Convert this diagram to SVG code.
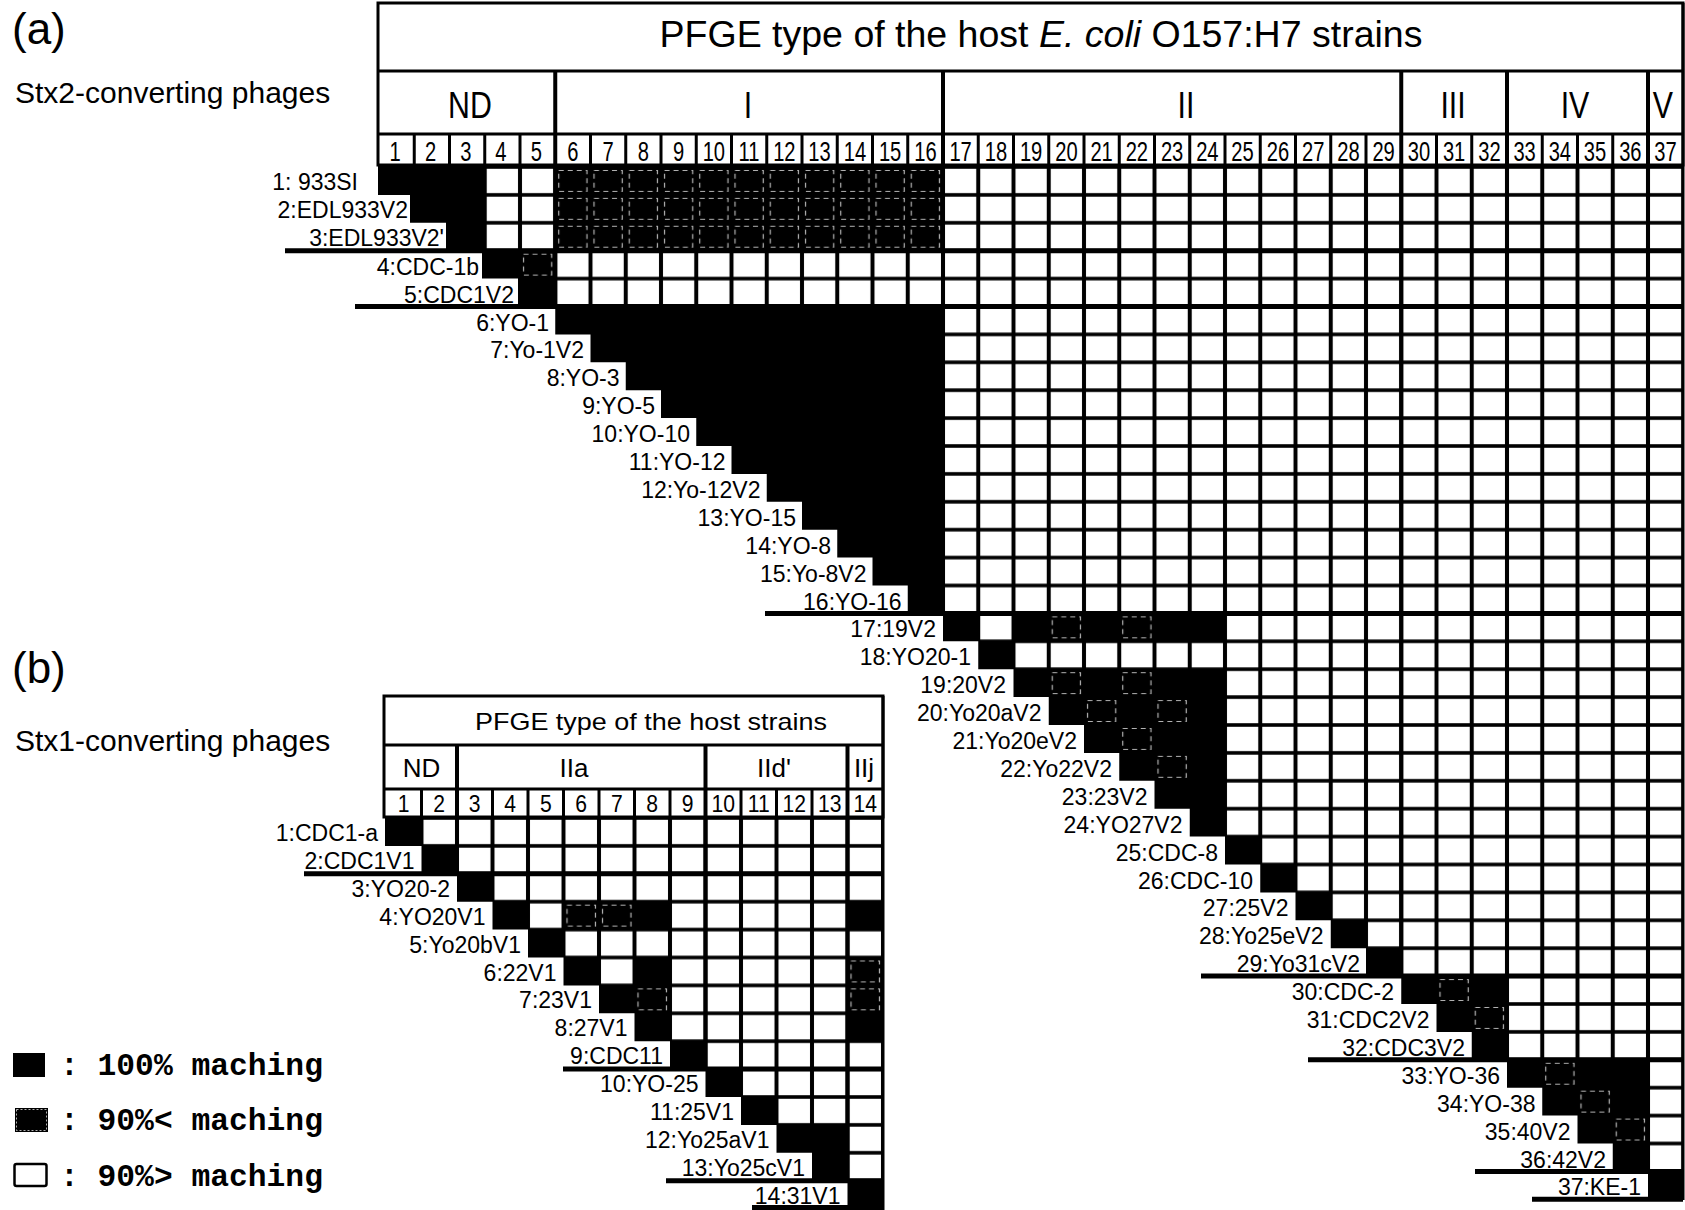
<svg xmlns="http://www.w3.org/2000/svg" width="1685" height="1210" viewBox="0 0 1685 1210">
<style>
.t{font-family:"Liberation Sans",Arial,Helvetica,sans-serif;fill:#000}
.lab{font-family:"Liberation Sans",Arial,Helvetica,sans-serif;font-size:23px;text-anchor:end;fill:#000}
.labb{font-family:"Liberation Sans",Arial,Helvetica,sans-serif;font-size:23px;text-anchor:end;fill:#000}
.num{font-family:"Liberation Sans",Arial,Helvetica,sans-serif;font-size:28px;text-anchor:middle;fill:#000}
.numb{font-family:"Liberation Sans",Arial,Helvetica,sans-serif;font-size:24px;text-anchor:middle;fill:#000}
.grp{font-family:"Liberation Sans",Arial,Helvetica,sans-serif;font-size:37px;text-anchor:middle;fill:#000}
.grpb{font-family:"Liberation Sans",Arial,Helvetica,sans-serif;font-size:26px;text-anchor:middle;fill:#000}
.leg{font-family:"Liberation Mono","Courier New",monospace;font-size:31.3px;font-weight:bold;fill:#000}
.sep{stroke:#000;stroke-width:5;fill:none}
.gl{stroke:#000;stroke-width:4;fill:none}
.thin{stroke:#000;stroke-width:3;fill:none}
.box{fill:#fff;stroke:#000;stroke-width:3}
</style>
<defs>
<pattern id="wa" patternUnits="userSpaceOnUse" x="379" y="167" width="35.25" height="27.9">
<rect x="2" y="1.8" width="31.25" height="24.3" fill="#fff"/>
</pattern>
<pattern id="da" patternUnits="userSpaceOnUse" x="379" y="167" width="35.25" height="27.9">
<rect x="3.5" y="3.5" width="28.25" height="20.9" fill="none" stroke="#fff" stroke-width="1.2" stroke-dasharray="5 4" opacity="0.7"/>
</pattern>
<pattern id="wb" patternUnits="userSpaceOnUse" x="386" y="818" width="35.5" height="27.9">
<rect x="2" y="1.8" width="31.5" height="24.3" fill="#fff"/>
</pattern>
<pattern id="db" patternUnits="userSpaceOnUse" x="386" y="818" width="35.5" height="27.9">
<rect x="3.5" y="3.5" width="28.5" height="20.9" fill="none" stroke="#fff" stroke-width="1.2" stroke-dasharray="5 4" opacity="0.7"/>
</pattern>
</defs>
<rect x="0" y="0" width="1685" height="1210" fill="#fff"/>

<!-- ===== Panel (a) ===== -->
<g id="panel-a-titles">
<text class="t" x="12" y="44" font-size="44">(a)</text>
<text class="t" x="15" y="103" font-size="30">Stx2-converting phages</text>
</g>

<g id="header-a">
<rect class="box" x="378" y="3" width="1305" height="162"/>
<line class="thin" x1="378" y1="71" x2="1683" y2="71"/>
<line class="thin" x1="378" y1="134" x2="1683" y2="134"/>
<text class="t" x="1041" y="47" font-size="37.5" text-anchor="middle">PFGE type of the host <tspan font-style="italic">E. coli</tspan> O157:H7 strains</text>
<g transform="scale(0.82 1)">
<text class="grp" x="573.2" y="118">ND</text>
<text class="grp" x="912.2" y="118">I</text>
<text class="grp" x="1446.3" y="118">II</text>
<text class="grp" x="1772" y="118">III</text>
<text class="grp" x="1920.7" y="118">IV</text>
<text class="grp" x="2028" y="118">V</text>
</g>
<path class="thin" d="M414.25 134V165M449.5 134V165M484.75 134V165M520 134V165M590.5 134V165M625.75 134V165M661 134V165M696.25 134V165M731.5 134V165M766.75 134V165M802 134V165M837.25 134V165M872.5 134V165M907.75 134V165M978.25 134V165M1013.5 134V165M1048.75 134V165M1084 134V165M1119.25 134V165M1154.5 134V165M1189.75 134V165M1225 134V165M1260.25 134V165M1295.5 134V165M1330.75 134V165M1366 134V165M1436.5 134V165M1471.75 134V165M1542.25 134V165M1577.5 134V165M1612.75 134V165"/>
<g transform="scale(0.72 1)">
<text class="num" y="161" x="548.9">1</text><text class="num" y="161" x="597.9">2</text><text class="num" y="161" x="646.9">3</text><text class="num" y="161" x="695.8">4</text><text class="num" y="161" x="744.8">5</text><text class="num" y="161" x="795.7">6</text><text class="num" y="161" x="844.6">7</text><text class="num" y="161" x="893.6">8</text><text class="num" y="161" x="942.5">9</text><text class="num" y="161" x="991.5">10</text><text class="num" y="161" x="1040.4">11</text><text class="num" y="161" x="1089.4">12</text><text class="num" y="161" x="1138.3">13</text><text class="num" y="161" x="1187.4">14</text><text class="num" y="161" x="1236.3">15</text><text class="num" y="161" x="1285.3">16</text><text class="num" y="161" x="1334.2">17</text><text class="num" y="161" x="1383.2">18</text><text class="num" y="161" x="1432.1">19</text><text class="num" y="161" x="1481.1">20</text><text class="num" y="161" x="1530">21</text><text class="num" y="161" x="1579">22</text><text class="num" y="161" x="1627.9">23</text><text class="num" y="161" x="1676.9">24</text><text class="num" y="161" x="1725.8">25</text><text class="num" y="161" x="1774.9">26</text><text class="num" y="161" x="1823.8">27</text><text class="num" y="161" x="1872.8">28</text><text class="num" y="161" x="1921.7">29</text><text class="num" y="161" x="1970.7">30</text><text class="num" y="161" x="2019.6">31</text><text class="num" y="161" x="2068.6">32</text><text class="num" y="161" x="2117.5">33</text><text class="num" y="161" x="2166.5">34</text><text class="num" y="161" x="2215.4">35</text><text class="num" y="161" x="2264.4">36</text><text class="num" y="161" x="2313.3">37</text>
</g>
</g>

<g id="matrix-a">
<path fill="#000" d="M1683.25 165H378V194.9H410V222.8H446V250.7H482V278.6H518V306.5H555.25V334.4H590.5V362.3H625.75V390.2H661V418.1H696.25V446H731.5V473.9H766.75V501.8H802V529.7H837.25V557.6H872.5V585.5H907.75V613.4H943V641.3H978.25V669.2H1013.5V697.1H1048.75V725H1084V752.9H1119.25V780.8H1154.5V808.7H1189.75V836.6H1225V864.5H1260.25V892.4H1295.5V920.3H1330.75V948.2H1366V976.1H1401.25V1004H1436.5V1031.9H1471.75V1059.8H1507V1087.7H1542.25V1115.6H1577.5V1143.5H1612.75V1171.4H1648V1199.3H1683.25Z"/>
<g fill="url(#wa)">
<rect x="484.75" y="167" width="70.5" height="83.7"/>
<rect x="943" y="167" width="740.25" height="83.7"/>
<rect x="555.25" y="250.7" width="1128" height="55.8"/>
<rect x="943" y="306.5" width="740.25" height="306.9"/>
<rect x="978.25" y="613.4" width="35.25" height="27.9"/>
<rect x="1013.5" y="641.3" width="211.5" height="27.9"/>
<rect x="1225" y="613.4" width="458.25" height="223.2"/>
<rect x="1260.25" y="836.6" width="423" height="27.9"/>
<rect x="1295.5" y="864.5" width="387.75" height="27.9"/>
<rect x="1330.75" y="892.4" width="352.5" height="27.9"/>
<rect x="1366" y="920.3" width="317.25" height="27.9"/>
<rect x="1401.25" y="948.2" width="282" height="27.9"/>
<rect x="1507" y="976.1" width="176.25" height="83.7"/>
<rect x="1648" y="1059.8" width="35.25" height="111.6"/>
</g>
<g fill="url(#da)">
<rect x="555.25" y="167" width="387.75" height="83.7"/>
<rect x="520" y="250.7" width="35.25" height="27.9"/>
<rect x="1048.75" y="613.4" width="35.25" height="27.9"/>
<rect x="1119.25" y="613.4" width="35.25" height="27.9"/>
<rect x="1048.75" y="669.2" width="35.25" height="27.9"/>
<rect x="1119.25" y="669.2" width="35.25" height="27.9"/>
<rect x="1084" y="697.1" width="35.25" height="27.9"/>
<rect x="1154.5" y="697.1" width="35.25" height="27.9"/>
<rect x="1119.25" y="725" width="35.25" height="27.9"/>
<rect x="1154.5" y="752.9" width="35.25" height="27.9"/>
<rect x="1436.5" y="976.1" width="35.25" height="27.9"/>
<rect x="1471.75" y="1004" width="35.25" height="27.9"/>
<rect x="1542.25" y="1059.8" width="35.25" height="27.9"/>
<rect x="1577.5" y="1087.7" width="35.25" height="27.9"/>
<rect x="1612.75" y="1115.6" width="35.25" height="27.9"/>
</g>
</g>

<g id="connectors-a">
<path class="gl" d="M555.25 71V306.5M943 71V613.4M1401.25 71V976.1M1507 71V1059.8M1648 71V1171.4"/>
<path class="sep" d="M285 250.7H1683M355 306.5H1683M765 613.4H1683M1201 976.1H1683M1308 1059.8H1683M1475 1171.4H1683M1532 1199.3H1683"/>
<line class="thin" x1="1683" y1="3" x2="1683" y2="1200"/>
</g>

<g id="labels-a">
<text class="lab" x="358" y="190">1: 933SI</text>
<text class="lab" x="408" y="217.5">2:EDL933V2</text>
<text class="lab" x="444" y="246">3:EDL933V2'</text>
<text class="lab" x="479" y="274.7">4:CDC-1b</text>
<text class="lab" x="514" y="302.6">5:CDC1V2</text>
<text class="lab" x="549" y="330.5">6:YO-1</text>
<text class="lab" x="584" y="358.4">7:Yo-1V2</text>
<text class="lab" x="619.5" y="386.3">8:YO-3</text>
<text class="lab" x="655" y="414.2">9:YO-5</text>
<text class="lab" x="690" y="442.1">10:YO-10</text>
<text class="lab" x="725.5" y="470">11:YO-12</text>
<text class="lab" x="760.5" y="497.9">12:Yo-12V2</text>
<text class="lab" x="796" y="525.8">13:YO-15</text>
<text class="lab" x="831" y="553.7">14:YO-8</text>
<text class="lab" x="866.5" y="581.6">15:Yo-8V2</text>
<text class="lab" x="901.5" y="609.5">16:YO-16</text>
<text class="lab" x="936" y="637.4">17:19V2</text>
<text class="lab" x="971" y="665.3">18:YO20-1</text>
<text class="lab" x="1006" y="693.2">19:20V2</text>
<text class="lab" x="1041.5" y="721.1">20:Yo20aV2</text>
<text class="lab" x="1077" y="749">21:Yo20eV2</text>
<text class="lab" x="1112" y="776.9">22:Yo22V2</text>
<text class="lab" x="1147.5" y="804.8">23:23V2</text>
<text class="lab" x="1182.5" y="832.7">24:YO27V2</text>
<text class="lab" x="1218" y="860.6">25:CDC-8</text>
<text class="lab" x="1253" y="888.5">26:CDC-10</text>
<text class="lab" x="1288.5" y="916.4">27:25V2</text>
<text class="lab" x="1323.5" y="944.3">28:Yo25eV2</text>
<text class="lab" x="1360" y="972.2">29:Yo31cV2</text>
<text class="lab" x="1394" y="1000.1">30:CDC-2</text>
<text class="lab" x="1429.5" y="1028">31:CDC2V2</text>
<text class="lab" x="1465" y="1055.9">32:CDC3V2</text>
<text class="lab" x="1500" y="1083.8">33:YO-36</text>
<text class="lab" x="1535.5" y="1111.7">34:YO-38</text>
<text class="lab" x="1570.5" y="1139.6">35:40V2</text>
<text class="lab" x="1606" y="1167.5">36:42V2</text>
<text class="lab" x="1641" y="1195.4">37:KE-1</text>
</g>

<!-- ===== Panel (b) ===== -->
<g id="panel-b-titles">
<text class="t" x="12" y="683" font-size="44">(b)</text>
<text class="t" x="15" y="751" font-size="30">Stx1-converting phages</text>
</g>

<g id="header-b">
<rect class="box" x="384" y="696" width="499" height="121"/>
<line class="thin" x1="384" y1="745" x2="883" y2="745"/>
<line class="thin" x1="384" y1="789" x2="883" y2="789"/>
<text class="t" x="475" y="730" font-size="24" textLength="352" lengthAdjust="spacingAndGlyphs">PFGE type of the host strains</text>
<text class="grpb" x="421.5" y="777">ND</text>
<text class="grpb" x="574" y="777">IIa</text>
<text class="grpb" x="774" y="777">IId'</text>
<text class="grpb" x="864" y="777">IIj</text>
<path class="thin" d="M421.5 789V817M492.5 789V817M528 789V817M563.5 789V817M599 789V817M634.5 789V817M670 789V817M741 789V817M776.5 789V817M812 789V817"/>
<g transform="scale(0.88 1)">
<text class="numb" y="812" x="458.8">1</text><text class="numb" y="812" x="499.1">2</text><text class="numb" y="812" x="539.5">3</text><text class="numb" y="812" x="579.8">4</text><text class="numb" y="812" x="620.2">5</text><text class="numb" y="812" x="660.5">6</text><text class="numb" y="812" x="700.9">7</text><text class="numb" y="812" x="741.2">8</text><text class="numb" y="812" x="781.5">9</text><text class="numb" y="812" x="821.9">10</text><text class="numb" y="812" x="862.2">11</text><text class="numb" y="812" x="902.6">12</text><text class="numb" y="812" x="942.9">13</text><text class="numb" y="812" x="983.2">14</text>
</g>
</g>

<g id="matrix-b">
<path fill="#000" d="M883 816H385V845.9H421.5V873.8H457V901.7H492.5V929.6H528V957.5H563.5V985.4H599V1013.3H634.5V1041.2H670V1069.1H705.5V1097H741V1124.9H776.5V1152.8H812V1180.7H847.5V1210H883Z"/>
<g fill="url(#wb)">
<rect x="421.5" y="818" width="461.5" height="27.9"/>
<rect x="457" y="845.9" width="426" height="27.9"/>
<rect x="492.5" y="873.8" width="390.5" height="27.9"/>
<rect x="528" y="901.7" width="35.5" height="27.9"/>
<rect x="670" y="901.7" width="177.5" height="27.9"/>
<rect x="563.5" y="929.6" width="319.5" height="27.9"/>
<rect x="599" y="957.5" width="35.5" height="27.9"/>
<rect x="670" y="957.5" width="177.5" height="83.7"/>
<rect x="705.5" y="1041.2" width="177.5" height="27.9"/>
<rect x="741" y="1069.1" width="142" height="27.9"/>
<rect x="776.5" y="1097" width="106.5" height="27.9"/>
<rect x="847.5" y="1124.9" width="35.5" height="55.8"/>
</g>
<g fill="url(#db)">
<rect x="563.5" y="901.7" width="71" height="27.9"/>
<rect x="847.5" y="957.5" width="35.5" height="55.8"/>
<rect x="634.5" y="985.4" width="35.5" height="27.9"/>
</g>
</g>

<g id="connectors-b">
<path class="gl" d="M457 745V873.8M705.5 745V1069.1M847.5 745V1180.7"/>
<path class="sep" d="M304 873.8H883M563 1069.1H883M666 1180.7H883M752 1207.5H883"/>
<line class="thin" x1="883" y1="696" x2="883" y2="1210"/>
</g>

<g id="labels-b">
<text class="labb" x="378" y="841">1:CDC1-a</text>
<text class="labb" x="414.5" y="868.9">2:CDC1V1</text>
<text class="labb" x="450" y="896.8">3:YO20-2</text>
<text class="labb" x="485.5" y="924.7">4:YO20V1</text>
<text class="labb" x="521" y="952.6">5:Yo20bV1</text>
<text class="labb" x="556.5" y="980.5">6:22V1</text>
<text class="labb" x="592" y="1008.4">7:23V1</text>
<text class="labb" x="627.5" y="1036.3">8:27V1</text>
<text class="labb" x="663" y="1064.2">9:CDC11</text>
<text class="labb" x="698.5" y="1092.1">10:YO-25</text>
<text class="labb" x="734" y="1120">11:25V1</text>
<text class="labb" x="769.5" y="1147.9">12:Yo25aV1</text>
<text class="labb" x="805" y="1175.8">13:Yo25cV1</text>
<text class="labb" x="840.5" y="1203.7">14:31V1</text>
</g>

<!-- ===== Legend ===== -->
<g id="legend">
<rect x="13" y="1053" width="32" height="24" fill="#000"/>
<text class="leg" x="60" y="1075">: 100% maching</text>
<rect x="15" y="1108" width="33" height="24" fill="#000"/>
<rect x="16.5" y="1109.5" width="30" height="21" fill="none" stroke="#fff" stroke-width="1" stroke-dasharray="2 2" opacity="0.7"/>
<text class="leg" x="60" y="1130">: 90%&lt; maching</text>
<rect x="14.5" y="1164" width="32" height="22" rx="2" fill="#fff" stroke="#000" stroke-width="2.5"/>
<text class="leg" x="60" y="1186">: 90%&gt; maching</text>
</g>
</svg>
